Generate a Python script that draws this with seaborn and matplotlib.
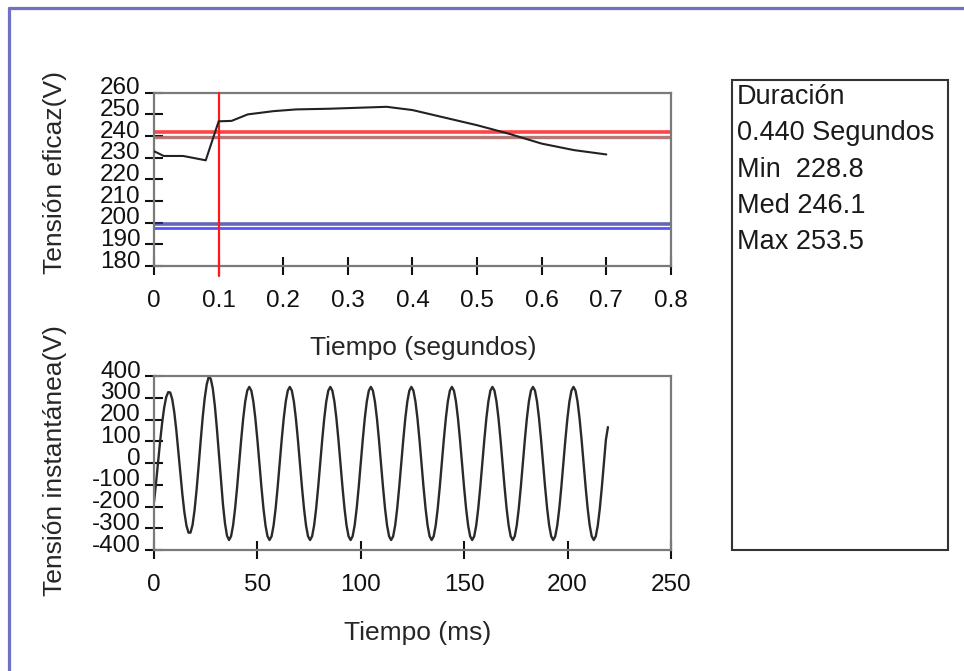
import numpy as np
import pandas as pd
import matplotlib
matplotlib.use("Agg")
import matplotlib.pyplot as plt
from matplotlib.patches import Rectangle
from matplotlib.lines import Line2D
from matplotlib.transforms import ScaledTranslation
import seaborn as sns

# ---------------- data ----------------
# RMS voltage (top panel)
rms_time_s = [0, 0.015, 0.045, 0.08, 0.10, 0.12, 0.145, 0.185, 0.22, 0.27,
              0.31, 0.36, 0.40, 0.45, 0.50, 0.55, 0.60, 0.65, 0.70]
rms_volts = [233.0, 230.8, 230.8, 228.8, 246.8, 247.0, 250.0, 251.5, 252.3, 252.6,
             253.0, 253.5, 252.0, 248.5, 245.0, 241.0, 236.5, 233.5, 231.5]
upper_limits = [242.0, 239.5]
lower_limits = [199.6, 197.4]
event_start_s = 0.1

top_yticks = [180, 190, 200, 210, 220, 230, 240, 250, 260]
top_xticks = [0, 0.1, 0.2, 0.3, 0.4, 0.5, 0.6, 0.7, 0.8]
top_xticklabels = ["0", "0.1", "0.2", "0.3", "0.4", "0.5", "0.6", "0.7", "0.8"]

# Instantaneous voltage (bottom panel), one sample every 0.98 ms
sample_ms = 0.98
inst_volts = (
    [-178, -90, 5, 100, 185, 255, 303, 326, 324, 292,
     232, 150, 53, -49, -146, -228, -288, -320, -320, -285,
     -216, -123, -14, 101, 209, 298, 362, 397, 387, 342,
     264, 160, 42, -79, -189, -277, -334, -354, -337, -287,
     -209, -111, -2, 107, 205, 283, 333]
    + [350, 333, 283, 205, 107, -2, -111, -209, -287, -337,
       -354, -337, -287, -209, -111, -2, 107, 205, 283, 333]
    + [350, 333, 283, 205, 107, -2, -111, -209, -287, -337,
       -354, -337, -287, -209, -111, -2, 107, 205, 283, 333]
    + [350, 333, 283, 205, 107, -2, -111, -209, -287, -337,
       -354, -337, -287, -209, -111, -2, 107, 205, 283, 333]
    + [350, 333, 283, 205, 107, -2, -111, -209, -287, -337,
       -354, -337, -287, -209, -111, -2, 107, 205, 283, 333]
    + [350, 333, 283, 205, 107, -2, -111, -209, -287, -337,
       -354, -337, -287, -209, -111, -2, 107, 205, 283, 333]
    + [350, 333, 283, 205, 107, -2, -111, -209, -287, -337,
       -354, -337, -287, -209, -111, -2, 107, 205, 283, 333]
    + [350, 333, 283, 205, 107, -2, -111, -209, -287, -337,
       -354, -337, -287, -209, -111, -2, 107, 205, 283, 333]
    + [350, 333, 283, 205, 107, -2, -111, -209, -287, -337,
       -354, -337, -287, -209, -111, -2, 107, 205, 283, 333]
    + [350, 333, 283, 205, 107, -2, -111, -209, -287, -337,
       -354, -337, -287, -209, -111, -2, 107, 165]
)
inst_time_ms = np.arange(len(inst_volts)) * sample_ms

bottom_yticks = [-400, -300, -200, -100, 0, 100, 200, 300, 400]
bottom_xticks = [0, 50, 100, 150, 200, 250]

info_lines = ["Duración", "0.440 Segundos", "Min  228.8", "Med 246.1", "Max 253.5"]

# ---------------- style ----------------
sns.set_theme(style="white")
plt.rcParams["font.family"] = ["Liberation Sans", "DejaVu Sans"]
plt.rcParams["axes.unicode_minus"] = False

TICK_FS = 17.5
LABEL_FS = 19
SPINE_C = "#7a7a7a"

fig = plt.figure(figsize=(9.64, 6.71), dpi=100)
fig.patch.set_facecolor("white")

ax1 = fig.add_axes([0.1598, 0.6036, 0.5362, 0.2582])
ax2 = fig.add_axes([0.1598, 0.1803, 0.5362, 0.2593])

# ---- top panel ----
ax1.axhline(upper_limits[0], color="#ff3030", lw=2.6, alpha=0.9, zorder=2)
ax1.axhline(upper_limits[1], color="#a86060", lw=2.4, alpha=0.85, zorder=2)
ax1.axhline(lower_limits[0], color="#3030a0", lw=2.6, alpha=0.75, zorder=2)
ax1.axhline(lower_limits[1], color="#2a2aff", lw=2.0, alpha=0.8, zorder=2)
ax1.axvline(event_start_s, ymin=-0.06, ymax=1.0, color="#ff1a1a", lw=1.6,
            clip_on=False, zorder=3)
rms_df = pd.DataFrame({"t": rms_time_s, "v": rms_volts})
sns.lineplot(data=rms_df, x="t", y="v", ax=ax1, color="#222222", lw=1.5,
             zorder=4)
ax1.set_xlim(0, 0.8)
ax1.set_ylim(180, 260)
ax1.set_xticks(top_xticks)
ax1.set_xticklabels(top_xticklabels)
ax1.set_yticks(top_yticks)
ax1.set_xlabel("Tiempo (segundos)", fontsize=LABEL_FS)
ax1.set_ylabel("Tensión eficaz(V)", fontsize=LABEL_FS)

# ---- bottom panel ----
inst_df = pd.DataFrame({"t": inst_time_ms, "v": inst_volts})
sns.lineplot(data=inst_df, x="t", y="v", ax=ax2, color="#2a2a2a", lw=1.7)
ax2.set_xlim(0, 250)
ax2.set_ylim(-400, 400)
ax2.set_xticks(bottom_xticks)
ax2.set_yticks(bottom_yticks)
ax2.set_xlabel("Tiempo (ms)", fontsize=LABEL_FS)
ax2.set_ylabel("Tensión instantánea(V)", fontsize=LABEL_FS)

for ax in (ax1, ax2):
    ax.set_facecolor("white")
    for sp in ax.spines.values():
        sp.set_visible(True)
        sp.set_color(SPINE_C)
        sp.set_linewidth(1.6)
    ax.tick_params(axis="both", which="major", bottom=True, left=True,
                   top=False, right=False,
                   direction="inout", length=13, width=1.5,
                   color="#111111", labelsize=TICK_FS, labelcolor="#111111")
    ax.tick_params(axis="x", pad=11)
    ax.tick_params(axis="y", pad=3)
    ax.grid(False)
    off = ScaledTranslation(0, 5 / 72, fig.dpi_scale_trans)
    for lab in ax.get_yticklabels():
        lab.set_transform(lab.get_transform() + off)
    ax.xaxis.label.set_verticalalignment("center")
    ax.yaxis.label.set_verticalalignment("center")

ax1.xaxis.set_label_coords(0.52, -0.473)
ax1.yaxis.set_label_coords(-0.192, 0.542)
ax2.xaxis.set_label_coords(0.51, -0.479)
ax2.yaxis.set_label_coords(-0.192, 0.517)

# ---- info box ----
fig.add_artist(Rectangle((0.759, 0.1803), 0.224, 0.7005, transform=fig.transFigure,
                         fill=False, edgecolor="#333333", lw=1.5))
line_y = [0.8554, 0.8018, 0.7466, 0.6930, 0.6393]
for txt, yy in zip(info_lines, line_y):
    fig.text(0.7645, yy, txt, fontsize=19.5, color="#1a1a1a", ha="left", va="center")

# ---- outer frame (top and left edges) ----
fig.add_artist(Line2D([0.00985, 0.00985], [0.0, 0.9888], transform=fig.transFigure,
                      color="#7070c4", lw=2.3))
fig.add_artist(Line2D([0.00985, 1.0], [0.9888, 0.9888], transform=fig.transFigure,
                      color="#7070c4", lw=2.3))

fig.savefig("out.png", dpi=100, facecolor="white")
